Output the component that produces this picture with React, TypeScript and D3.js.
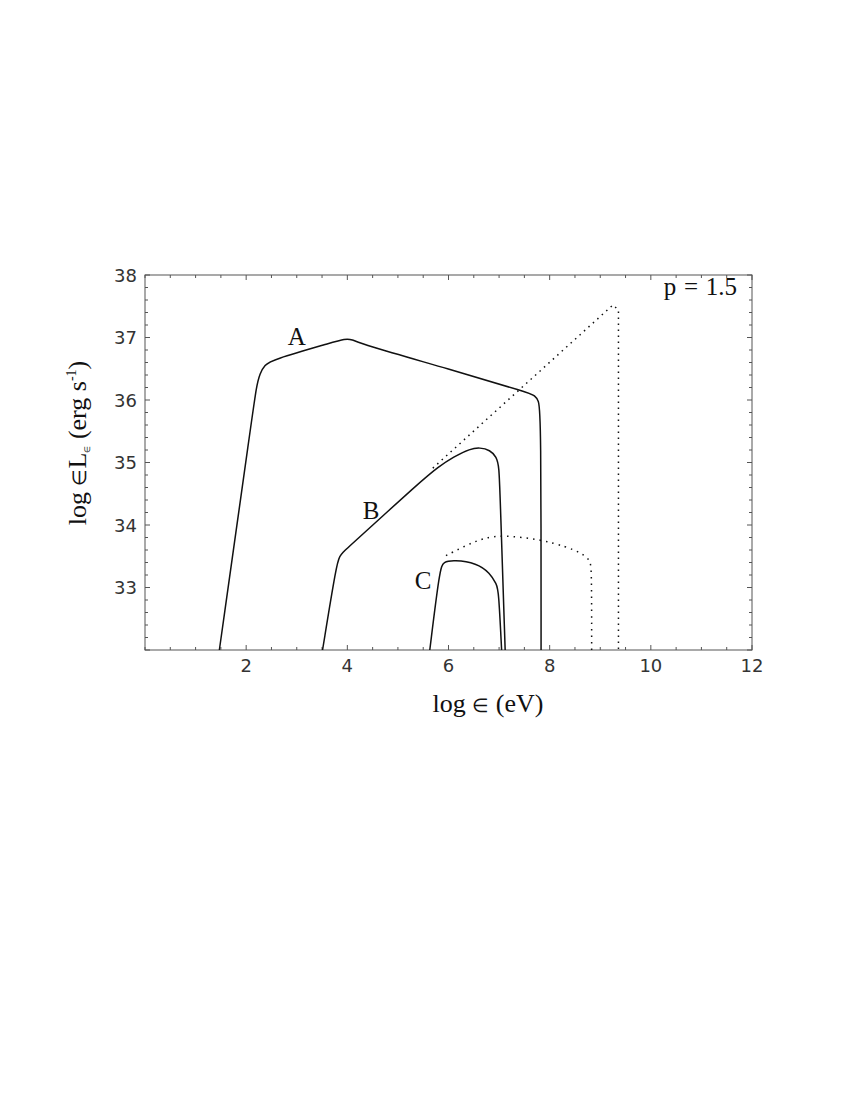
import React from 'react';
import * as d3 from 'd3';

// curve readings, log eps (eV) vs log eps L_eps (erg/s)
const curveA: [number, number][] = [
  [1.47, 32], [2.13, 35.8], [2.2, 36.2], [2.27, 36.43], [2.37, 36.56], [2.5, 36.64],
  [3.7, 36.92], [3.95, 36.98], [4.1, 36.97], [4.25, 36.9], [6.03, 36.49], [7.61, 36.11],
  [7.7, 36.07], [7.78, 36.0], [7.83, 35.79], [7.83, 32],
];
const curveB: [number, number][] = [
  [3.51, 32], [3.79, 33.39], [3.85, 33.5], [3.92, 33.57], [4.0, 33.63], [5.44, 34.69],
  [5.8, 34.93], [6.1, 35.09], [6.43, 35.22], [6.62, 35.24], [6.82, 35.2], [6.95, 35.09],
  [7.0, 34.93], [7.02, 34.48], [7.12, 32],
];
const curveC: [number, number][] = [
  [5.63, 32], [5.83, 33.31], [5.9, 33.41], [6.1, 33.44], [6.56, 33.39], [6.82, 33.23],
  [6.95, 33.05], [6.99, 32.96], [7.05, 32],
];
const dottedB: [number, number][] = [
  [5.69, 34.91], [9.25, 37.52], [9.36, 37.44], [9.36, 32],
];
const dottedC: [number, number][] = [
  [5.95, 33.51], [6.36, 33.68], [6.69, 33.79], [7.08, 33.84], [7.81, 33.77], [8.34, 33.65],
  [8.63, 33.55], [8.8, 33.44], [8.83, 33.3], [8.83, 32],
];

const xMajor = [2, 4, 6, 8, 10, 12];
const yMajor = [33, 34, 35, 36, 37, 38];
const curveLabels = [
  { text: 'A', x: 3.0, y: 36.88 },
  { text: 'B', x: 4.47, y: 34.1 },
  { text: 'C', x: 5.5, y: 32.97 },
];

const x = d3.scaleLinear().domain([0, 12]).range([145, 752]);
const y = d3.scaleLinear().domain([32, 38]).range([650, 275]);

const xMinor = d3.range(0, 12.001, 0.5);
const yMinor = d3.range(32, 38.001, 0.2);

const App = () => {
  const smooth = d3.line().x(d => x(d[0])).y(d => y(d[1])).curve(d3.curveBasis);
  const straight = d3.line().x(d => x(d[0])).y(d => y(d[1]));
  const axisColor = '#555';
  const tickFont = '"DejaVu Sans", sans-serif';
  const serif = '"Liberation Serif", "Times New Roman", serif';

  return (
    <svg width={850} height={1100} style={{ background: 'white', display: 'block', position: 'absolute', left: 0, top: 0 }}>
      <rect x={x(0)} y={y(38)} width={x(12) - x(0)} height={y(32) - y(38)} fill="none" stroke={axisColor} strokeWidth={1} />
      {xMinor.map((v, i) => {
        const len = xMajor.includes(Math.round(v * 10) / 10) ? 5 : 3;
        return (
          <g key={'xt' + i} stroke={axisColor}>
            <line x1={x(v)} x2={x(v)} y1={y(32)} y2={y(32) - len} />
            <line x1={x(v)} x2={x(v)} y1={y(38)} y2={y(38) + len} />
          </g>
        );
      })}
      {yMinor.map((v, i) => {
        const isMajor = Math.abs(v - Math.round(v)) < 1e-6;
        const len = isMajor ? 5 : 3;
        return (
          <g key={'yt' + i} stroke={axisColor}>
            <line x1={x(0)} x2={x(0) + len} y1={y(v)} y2={y(v)} />
            <line x1={x(12)} x2={x(12) - len} y1={y(v)} y2={y(v)} />
          </g>
        );
      })}
      {xMajor.map(v => (
        <text key={'xl' + v} x={x(v)} y={672} textAnchor="middle" fontFamily={tickFont} fontSize={18} fill="#333">{v}</text>
      ))}
      {yMajor.map(v => (
        <text key={'yl' + v} x={137} y={y(v) + 6.5} textAnchor="end" fontFamily={tickFont} fontSize={18} fill="#333">{v}</text>
      ))}

      <path d={smooth(curveA) || ''} fill="none" stroke="#111" strokeWidth={1.5} />
      <path d={smooth(curveB) || ''} fill="none" stroke="#111" strokeWidth={1.5} />
      <path d={smooth(curveC) || ''} fill="none" stroke="#111" strokeWidth={1.5} />
      <path d={straight(dottedB) || ''} fill="none" stroke="#111" strokeWidth={1.5} strokeDasharray="1.5 4.5" />
      <path d={smooth(dottedC) || ''} fill="none" stroke="#111" strokeWidth={1.5} strokeDasharray="1.5 5" />

      {curveLabels.map(l => (
        <text key={l.text} x={x(l.x)} y={y(l.y)} textAnchor="middle" fontFamily={serif} fontSize={25} fill="#111">{l.text}</text>
      ))}
      <text x={737} y={295} textAnchor="end" fontFamily={serif} fontSize={25} wordSpacing={1.5} fill="#111">p = 1.5</text>

      <text x={488} y={712} textAnchor="middle" fontFamily={serif} fontSize={26} fill="#111">
        log <tspan fontSize={19}>∈</tspan> (eV)
      </text>
      <text transform="translate(86,443) rotate(-90)" textAnchor="middle" fontFamily={serif} fontSize={26} fill="#111">
        log <tspan fontSize={19}>∈</tspan>L<tspan fontSize={8} dy={4}>∈</tspan><tspan dy={-4}> (erg s</tspan><tspan fontSize={14} dy={-10}>-1</tspan><tspan dy={10}>)</tspan>
      </text>
    </svg>
  );
};

export default App;
